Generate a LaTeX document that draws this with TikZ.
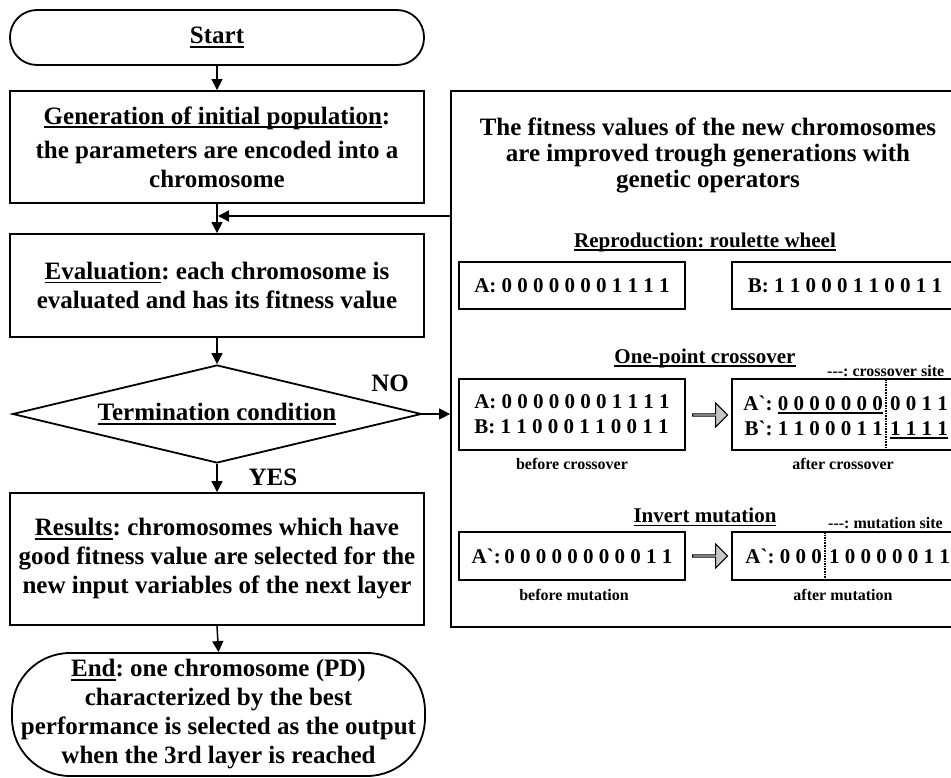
\documentclass[tikz,border=0pt]{standalone}
\usepackage{fontspec}
\setmainfont{Liberation Serif}
\usetikzlibrary{arrows.meta,shapes.geometric,shapes.arrows}
\newcommand{\myul}[1]{\leavevmode\setbox0=\hbox{#1}\rlap{\vrule width\wd0 height -2.2pt depth 3.8pt}\box0}
\newcommand{\gr}{\textasciigrave}
\frenchspacing
\begin{document}
\begin{tikzpicture}[x=1pt,y=-1pt,
 bigtxt/.style={font=\fontsize{25}{29}\selectfont\bfseries},
 midtxt/.style={font=\fontsize{21}{25}\selectfont\bfseries},
 smalltxt/.style={font=\fontsize{16}{19}\selectfont\bfseries},
 box/.style={draw,line width=1.8pt,inner sep=0pt,align=center},
 arr/.style={line width=1.5pt,-{Triangle[length=11pt,width=11pt]}},
 blk/.style={single arrow,draw,line width=1pt,fill=gray!45,minimum height=35pt,minimum width=24pt,single arrow head extend=5pt,inner sep=0pt},
 site/.style={densely dotted,line width=1.6pt}]
\useasboundingbox (0,0) rectangle (951,778);
\clip (0,0) rectangle (951,778);
% left flow chart
\node[box,bigtxt,rounded corners=27pt,minimum width=414pt,minimum height=55pt] (start) at (217,37.5) {\myul{Start}};
\node[box,bigtxt,minimum width=414pt,minimum height=112pt] (gen) at (217,147) {\myul{Generation of initial population}:\\[5pt] the parameters are encoded into a\\ chromosome};
\node[box,bigtxt,minimum width=414pt,minimum height=103pt] (eval) at (217,285.5) {\myul{Evaluation}: each chromosome is\\ evaluated and has its fitness value};
\node[box,bigtxt,diamond,aspect=4.17,minimum width=409pt,minimum height=98pt] (cond) at (217,414) {\myul{Termination condition}};
\node[box,bigtxt,minimum width=414pt,minimum height=132pt] (res) at (217,559) {\myul{Results}: chromosomes which have\\ good fitness value are selected for the\\ new input variables of the next layer};
\node[box,bigtxt,rounded corners=58pt,minimum width=413pt,minimum height=123pt] (end) at (218.5,714.5) {\myul{End}: one chromosome (PD)\\ characterized by the best\\ performance is selected as the output\\ when the 3rd layer is reached};
\node[bigtxt] (no) at (390,383) {NO};
\node[bigtxt] (yes) at (273,477) {YES};
% right panel
\node[draw,line width=1.8pt,minimum width=514pt,minimum height=536pt,inner sep=0pt] (panel) at (708,359) {};
\node[align=center,font=\fontsize{25}{26}\selectfont\bfseries] (title) at (708,155) {The fitness values of the new chromosomes\\ are improved trough generations with\\ genetic operators};
\node[midtxt] (rh) at (705,242) {\myul{Reproduction: roulette wheel}};
\node[box,midtxt,minimum width=226pt,minimum height=47pt] (ra) at (572,285.5) {A: 0 0 0 0 0 0 0 1 1 1 1};
\node[box,midtxt,minimum width=226pt,minimum height=47pt] (rb) at (845,285.5) {B: 1 1 0 0 0 1 1 0 0 1 1};
\node[midtxt] (ch) at (705,358) {\myul{One-point crossover}};
\node[smalltxt,anchor=west,inner sep=0pt] (cs) at (827,371) {{-}{-}{-}: crossover site};
\node[box,midtxt,minimum width=226pt,minimum height=71pt,align=left] (cb) at (572,414.5) {A: 0 0 0 0 0 0 0 1 1 1 1\\ B: 1 1 0 0 0 1 1 0 0 1 1};
\node[box,minimum width=226pt,minimum height=71pt] (ca) at (845,414.5) {};
\node[midtxt,inner sep=0pt,anchor=base east] (ca1) at (883,410) {A\gr: \myul{0 0 0 0 0 0 0}};
\node[midtxt,inner sep=0pt,anchor=base west] (ca2) at (890,410) {0 0 1 1};
\node[midtxt,inner sep=0pt,anchor=base east] (ca3) at (883,435) {B\gr: 1 1 0 0 0 1 1};
\node[midtxt,inner sep=0pt,anchor=base west] (ca4) at (890,435) {\myul{1 1 1 1}};
\draw[site] (886,379) -- (886,451);
\node[smalltxt] (cbl) at (572,464) {before crossover};
\node[smalltxt] (cal) at (843,464) {after crossover};
\node[blk] (ba1) at (709.5,415) {};
\node[midtxt] (mh) at (705,517) {\myul{Invert mutation}};
\node[smalltxt,anchor=west,inner sep=0pt] (ms) at (828,523) {{-}{-}{-}: mutation site};
\node[box,midtxt,minimum width=226pt,minimum height=48pt] (mb) at (572,556) {A\gr:\,0 0 0 0 0 0 0 0 0 1 1};
\node[box,minimum width=226pt,minimum height=48pt] (ma) at (845,556) {};
\node[midtxt,inner sep=0pt,anchor=base east] (ma1) at (822,563) {A\gr: 0 0 0};
\node[midtxt,inner sep=0pt,anchor=base west] (ma2) at (829,563) {1 0 0 0 0 0 1 1};
\draw[site] (825,532) -- (825,580);
\node[blk] (ba2) at (709.5,556) {};
\node[smalltxt] (mbl) at (574,595) {before mutation};
\node[smalltxt] (mal) at (843,595) {after mutation};
% connectors
\draw[arr] (start.south) -- (gen.north);
\draw[arr] (gen.south) -- (eval.north);
\draw[arr] (eval.south) -- (cond.north);
\draw[arr] (cond.south) -- (res.north);
\draw[arr] (res.south) -- (end.north);
\draw[arr] (cond.east) -- (cond.east -| panel.west);
\coordinate (fbe) at (218,216);
\draw[arr] (fbe -| panel.west) -- (fbe);
\end{tikzpicture}
\end{document}
